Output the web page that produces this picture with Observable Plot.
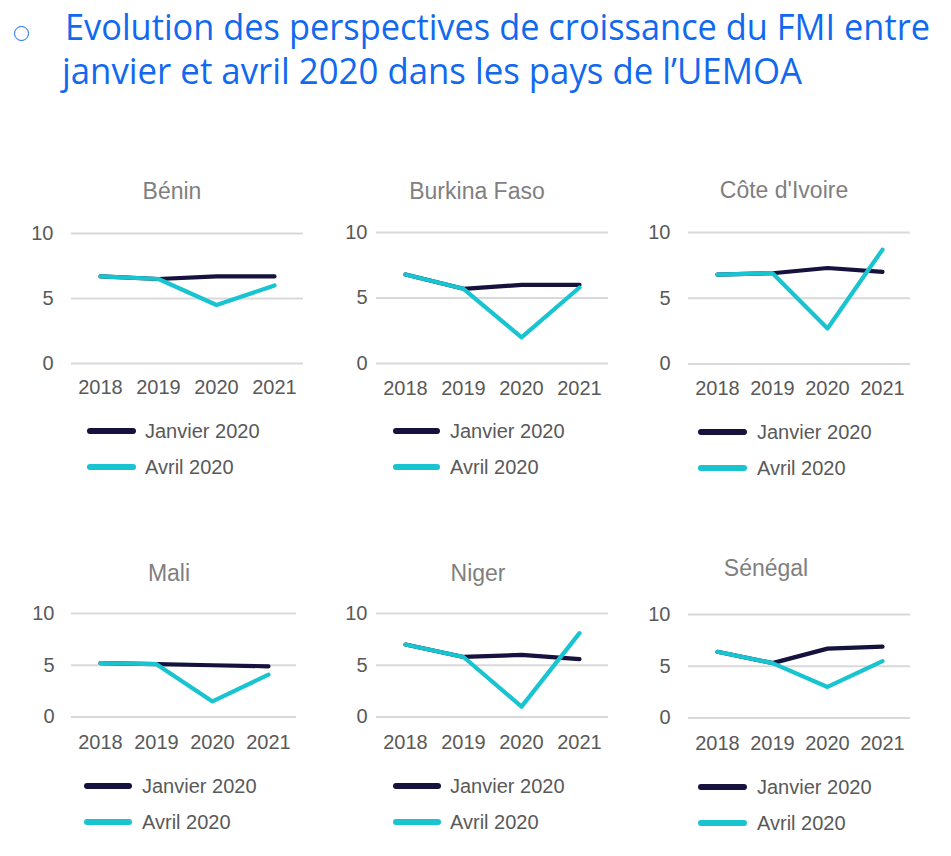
<!DOCTYPE html>
<html>
<head>
<meta charset="utf-8">
<script src="https://cdn.jsdelivr.net/npm/d3@7"></script>
<script src="https://cdn.jsdelivr.net/npm/@observablehq/plot@0.6"></script>
<style>
  body { margin: 0; background: #fff; }
  #root { position: relative; width: 951px; height: 856px; overflow: hidden; background: #fff;
          font-family: "Liberation Sans", Arial, sans-serif; }
  .ttl { position: absolute; white-space: nowrap; font-family: "Open Sans", sans-serif; font-weight: 400;
         font-size: 36px; line-height: 36px; color: #1169ef; transform-origin: 0 0; }
  .bullet { position: absolute; box-sizing: border-box; border: 1.7px solid #1169ef; border-radius: 50%; }
  .ptitle { position: absolute; font-size: 23px; line-height: 23px; color: #7f7f7f; white-space: nowrap;
            transform: translateX(-50%); }
  .leg { position: absolute; display: flex; align-items: center; height: 20px; font-size: 20px; line-height: 20px;
         color: #595959; white-space: nowrap; }
  .sw { height: 6px; border-radius: 3px; }
  .panel { position: absolute; }
  .panel svg { overflow: visible; }
</style>
</head>
<body>
<div id="root"></div>
<script>
// ---------- data ----------
const titleLines = [
  "Evolution des perspectives de croissance du FMI entre",
  "janvier et avril 2020 dans les pays de l\u2019UEMOA"
];
const years = ["2018", "2019", "2020", "2021"];
const countries = ["Bénin", "Burkina Faso", "Côte d'Ivoire", "Mali", "Niger", "Sénégal"];
const seriesNames = ["Janvier 2020", "Avril 2020"];
const yTicks = [0, 5, 10];
// growth forecasts (%) per country, in the order of `countries`
const janvier2020 = [
  [6.7, 6.5, 6.7, 6.7],
  [6.8, 5.7, 6.0, 6.0],
  [6.8, 6.9, 7.3, 7.0],
  [5.2, 5.1, 5.0, 4.9],
  [7.0, 5.8, 6.0, 5.6],
  [6.4, 5.3, 6.7, 6.9]
];
const avril2020 = [
  [6.7, 6.5, 4.5, 6.0],
  [6.8, 5.7, 2.0, 5.8],
  [6.8, 6.9, 2.7, 8.7],
  [5.2, 5.1, 1.5, 4.1],
  [7.0, 5.8, 1.0, 8.1],
  [6.4, 5.3, 3.0, 5.5]
];

// ---------- styling / layout ----------
const colors = ["#15123d", "#17c4d0"];
const layout = [
  {left: 20,  top: 212, width: 288, ml: 51, ypad: 18, innerH: 130,   xpad: 16, tx: 172, ty: 180,   lx: 87,  ly: [431, 467], sw: 49, gap: 9},
  {left: 320, top: 211, width: 293, ml: 56, ypad: 9,  innerH: 131,   xpad: 17, tx: 477, ty: 179.5, lx: 393, ly: [431, 467], sw: 47, gap: 10},
  {left: 630, top: 211, width: 285, ml: 58, ypad: 18, innerH: 131.5, xpad: 17, tx: 784, ty: 179,   lx: 698, ly: [431.5, 467.5], sw: 49, gap: 10},
  {left: 20,  top: 592, width: 281, ml: 51, ypad: 17, innerH: 103.5, xpad: 18, tx: 169, ty: 562,   lx: 84,  ly: [786, 822], sw: 48, gap: 10},
  {left: 320, top: 592, width: 293, ml: 56, ypad: 9,  innerH: 103.5, xpad: 18, tx: 478, ty: 562,   lx: 393, ly: [786, 822], sw: 48, gap: 9},
  {left: 630, top: 593, width: 285, ml: 58, ypad: 18, innerH: 103.5, xpad: 18, tx: 766, ty: 556.5, lx: 698, ly: [786.5, 822.5], sw: 49, gap: 10}
];

const root = document.getElementById("root");

// ---------- main title ----------
const bullet = document.createElement("div");
bullet.className = "bullet";
Object.assign(bullet.style, {left: "13.5px", top: "25.5px", width: "15.5px", height: "15.5px"});
root.appendChild(bullet);

const titleTargets = [{x: 65, baseline: 40.7, w: 865}, {x: 62, baseline: 85, w: 740}];
titleLines.forEach((t, i) => {
  const d = document.createElement("div");
  d.className = "ttl";
  d.textContent = t;
  d.style.left = titleTargets[i].x + "px";
  d.style.top = (titleTargets[i].baseline - 32) + "px";
  root.appendChild(d);
  const w = d.getBoundingClientRect().width;
  if (w > 0) d.style.transform = `scaleX(${titleTargets[i].w / w})`;
});

// ---------- panels ----------
countries.forEach((name, ci) => {
  const L = layout[ci];
  const data = [];
  seriesNames.forEach((s, si) => {
    const vals = si === 0 ? janvier2020[ci] : avril2020[ci];
    years.forEach((yr, k) => data.push({country: name, series: s, year: yr, value: vals[k]}));
  });

  const mt = 21, mb = 45;
  const chart = Plot.plot({
    width: L.width,
    height: mt + L.innerH + mb,
    marginLeft: L.ml,
    marginRight: 5,
    marginTop: mt,
    marginBottom: mb,
    style: {background: "transparent", color: "#595959", fontSize: "20px",
            fontFamily: "'Liberation Sans', Arial, sans-serif", overflow: "visible"},
    x: {type: "point", domain: years, padding: 0.5, tickSize: 0, tickPadding: L.xpad, label: null},
    y: {domain: [0, 10], ticks: yTicks, tickSize: 0, tickPadding: L.ypad, label: null},
    color: {domain: seriesNames, range: colors},
    marks: [
      Plot.ruleY(yTicks, {stroke: "#d9d9d9", strokeWidth: 2}),
      Plot.line(data.filter(d => d.series === seriesNames[0]),
        {x: "year", y: "value", stroke: "series", strokeWidth: 4.2, strokeLinejoin: "round", strokeLinecap: "round"}),
      Plot.line(data.filter(d => d.series === seriesNames[1]),
        {x: "year", y: "value", stroke: "series", strokeWidth: 4.2, strokeLinejoin: "round", strokeLinecap: "round"})
    ]
  });
  const holder = document.createElement("div");
  holder.className = "panel";
  holder.style.left = L.left + "px";
  holder.style.top = L.top + "px";
  holder.appendChild(chart);
  root.appendChild(holder);

  // panel title
  const t = document.createElement("div");
  t.className = "ptitle";
  t.textContent = name;
  t.style.left = L.tx + "px";
  t.style.top = L.ty + "px";
  root.appendChild(t);

  // legend
  seriesNames.forEach((s, si) => {
    const row = document.createElement("div");
    row.className = "leg";
    row.style.left = L.lx + "px";
    row.style.top = (L.ly[si] - 10) + "px";
    const sw = document.createElement("div");
    sw.className = "sw";
    sw.style.width = L.sw + "px";
    sw.style.marginRight = L.gap + "px";
    sw.style.background = colors[si];
    const tx = document.createElement("span");
    tx.textContent = s;
    row.appendChild(sw);
    row.appendChild(tx);
    root.appendChild(row);
  });
});
</script>
</body>
</html>
